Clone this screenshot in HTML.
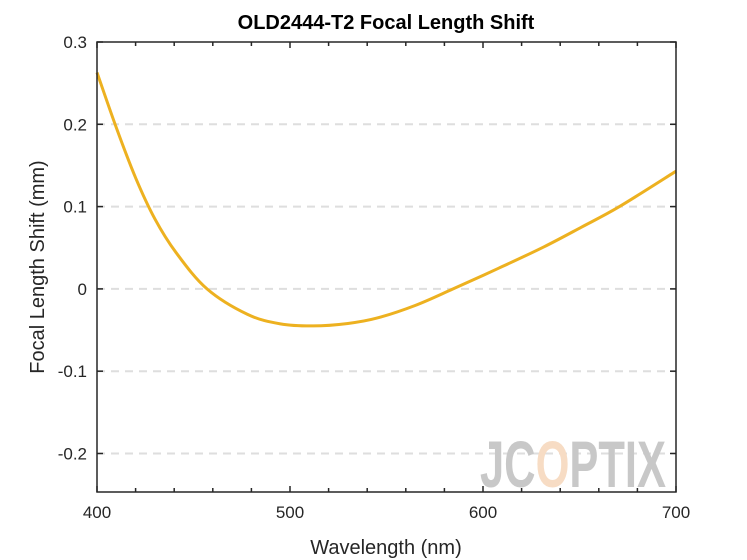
<!DOCTYPE html>
<html><head><meta charset="utf-8"><style>
html,body{margin:0;padding:0;background:#fff;}
svg{display:block;font-family:"Liberation Sans",Arial,sans-serif;}
</style></head><body>
<svg id="chart" width="747" height="560" viewBox="0 0 747 560" xmlns="http://www.w3.org/2000/svg">
<rect x="0" y="0" width="747" height="560" fill="#fff"/>
<g id="grid"></g>
<g>
<text x="480" y="487" font-size="66" font-weight="bold" fill="#c8c8c8" textLength="186" lengthAdjust="spacingAndGlyphs">JC<tspan fill="#f7dcc4">O</tspan>PT<tspan>IX</tspan></text>
</g>
<path id="curve" fill="none" stroke="#edb120" stroke-width="3"/>
<rect x="97" y="42" width="579" height="450" fill="none" stroke="#262626" stroke-width="1.5"/>
<g id="ticks"></g>
<text x="386" y="29" text-anchor="middle" font-size="20" font-weight="bold" fill="#000">OLD2444-T2 Focal Length Shift</text>
<text x="386" y="554" text-anchor="middle" font-size="20" fill="#262626">Wavelength (nm)</text>
<text transform="translate(44,267) rotate(-90)" text-anchor="middle" font-size="20" fill="#262626">Focal Length Shift (mm)</text>
</svg>
<script>
const wavelengths=[400,410,420,430,441,457,478,495,512,530,545,565,584.5,608,631.5,651,670.7,700];
const shifts=[0.263,0.196,0.135,0.085,0.044,0.0,-0.031,-0.0425,-0.045,-0.042,-0.0355,-0.020,0.0,0.025,0.051,0.075,0.100,0.143];
const xTicks=[400,500,600,700];
const yTicks=[-0.2,-0.1,0,0.1,0.2,0.3];
const yTickLabels=["-0.2","-0.1","0","0.1","0.2","0.3"];
const X0=97,X1=676,Y0=42,Y1=492,xmin=400,xmax=700,ymin=-0.2468,ymax=0.3;
const sx=v=>X0+(v-xmin)/(xmax-xmin)*(X1-X0);
const sy=v=>Y1-(v-ymin)/(ymax-ymin)*(Y1-Y0);
const NS="http://www.w3.org/2000/svg";
const grid=document.getElementById('grid'),ticks=document.getElementById('ticks');
function mk(tag,attrs,parent){const e=document.createElementNS(NS,tag);for(const k in attrs)e.setAttribute(k,attrs[k]);parent.appendChild(e);return e;}
yTicks.forEach((v,i)=>{const y=sy(v);
 if(i<yTicks.length-1){const g=mk('line',{x1:X0,x2:X1,y1:y,y2:y,stroke:'#dedede','stroke-width':2,'stroke-dasharray':'8,6'},grid);
 
 }
 const t1=mk('line',{x1:X0,x2:X0+6,y1:y,y2:y,stroke:'#262626','stroke-width':1.5},ticks);
 
 
 const t2=mk('line',{x1:X1-6,x2:X1,y1:y,y2:y,stroke:'#262626','stroke-width':1.5},ticks);
 
 
 const l=mk('text',{x:X0-10,y:y+6,'text-anchor':'end','font-size':17,fill:'#262626'},ticks);l.textContent=yTickLabels[i];
 
 
});
for(let w=400;w<=700;w+=20){const x=sx(w);const major=(w%100===0);
 const a=mk('line',{x1:x,x2:x,y1:Y1,y2:Y1-(major?6:4),stroke:'#262626','stroke-width':1.5},ticks);
 
 
 const b=mk('line',{x1:x,x2:x,y1:Y0,y2:Y0+(major?6:4),stroke:'#262626','stroke-width':1.5},ticks);
 
 }
xTicks.forEach(v=>{const l=mk('text',{x:sx(v),y:Y1+26,'text-anchor':'middle','font-size':17,fill:'#262626'},ticks);l.textContent=String(v);
 
 });
const P=wavelengths.map((w,i)=>[sx(w),sy(shifts[i])]);
let d='M'+P[0][0]+','+P[0][1];
for(let i=0;i<P.length-1;i++){const p0=P[Math.max(0,i-1)],p1=P[i],p2=P[i+1],p3=P[Math.min(P.length-1,i+2)];
 const c1=[p1[0]+(p2[0]-p0[0])/6,p1[1]+(p2[1]-p0[1])/6],c2=[p2[0]-(p3[0]-p1[0])/6,p2[1]-(p3[1]-p1[1])/6];
 d+=' C'+c1+' '+c2+' '+p2;}
document.getElementById('curve').setAttribute('d',d);
</script>
</body></html>
